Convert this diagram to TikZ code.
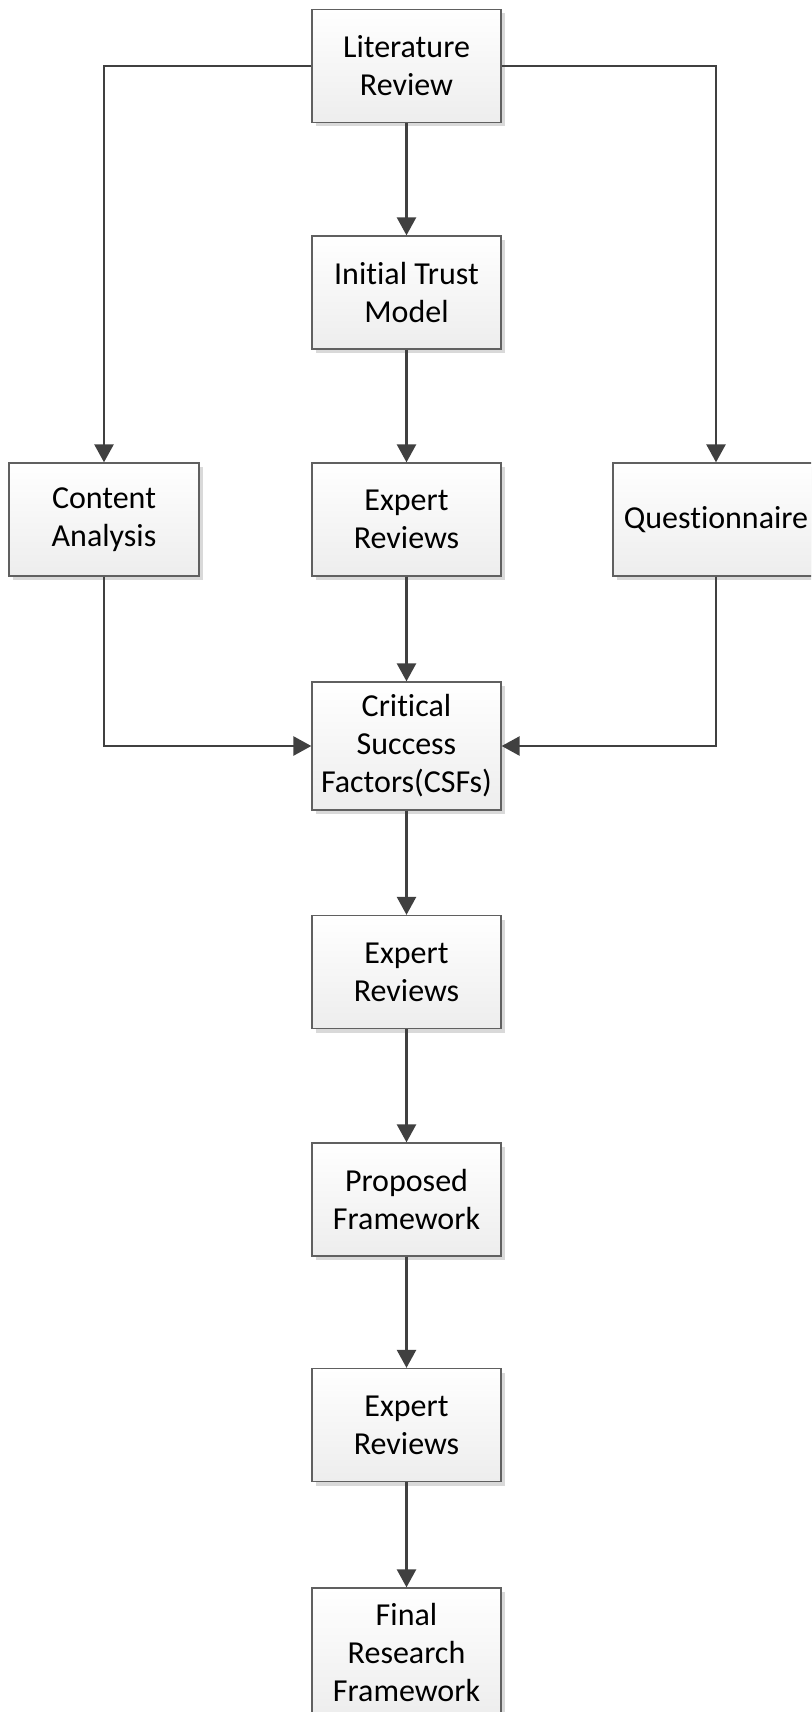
\documentclass[tikz,border=0pt]{standalone}
\usepackage{fontspec}
\setmainfont[Ligatures={NoCommon}]{Carlito}
\usetikzlibrary{arrows.meta,shadows}
\definecolor{linegray}{HTML}{404040}
\definecolor{boxedge}{HTML}{606060}
\definecolor{boxbottom}{HTML}{EDEDED}
\definecolor{shadowgray}{HTML}{D9D9D9}
\tikzset{
  stepbox/.style={rectangle, draw=boxedge, line width=1.3pt,
    top color=white, bottom color=boxbottom,
    minimum width=189pt, minimum height=113pt, inner sep=0pt,
    align=center, font=\fontsize{32}{38}\selectfont,
    drop shadow={shadow xshift=4pt, shadow yshift=-4pt, fill=shadowgray, opacity=1}},
  conn/.style={draw=linegray, line width=2.6pt,
    -{Triangle[length=18pt,width=19pt]}}
}
\begin{document}
\begin{tikzpicture}[x=1pt,y=-1pt]
\useasboundingbox (0,0) rectangle (811,1712);
\clip (0,0) rectangle (811,1712);
% process boxes
\node[stepbox] (lit) at (406.5,66) {Literature\\Review};
\node[stepbox] (init) at (406.5,292.5) {Initial Trust\\Model};
\node[stepbox] (exa) at (406.5,519.5) {Expert\\Reviews};
\node[stepbox, minimum width=190pt] (ca) at (104,519.5) {Content\\Analysis};
\node[stepbox, minimum width=206pt] (q) at (716,519.5) {Questionnaire};
\node[stepbox, minimum height=128pt] (csf) at (406.5,746) {Critical\\Success\\Factors(CSFs)};
\node[stepbox] (exb) at (406.5,972) {Expert\\Reviews};
\node[stepbox] (prop) at (406.5,1199.5) {Proposed\\Framework};
\node[stepbox] (exc) at (406.5,1425) {Expert\\Reviews};
\node[stepbox, minimum height=128pt] (fin) at (406.5,1652) {Final\\Research\\Framework};
% connectors
\draw[conn] (lit.west) -| (ca.north);
\draw[conn] (lit.east) -| (q.north);
\draw[conn] (lit) -- (init);
\draw[conn] (init) -- (exa);
\draw[conn] (exa) -- (csf);
\draw[conn] (ca.south) |- (csf.west);
\draw[conn] (q.south) |- (csf.east);
\draw[conn] (csf) -- (exb);
\draw[conn] (exb) -- (prop);
\draw[conn] (prop) -- (exc);
\draw[conn] (exc) -- (fin);
\end{tikzpicture}
\end{document}
